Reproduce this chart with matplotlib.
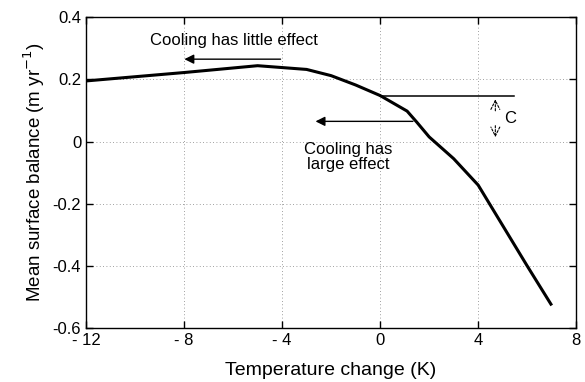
"""
Mean surface balance versus temperature change.
"""

import matplotlib
matplotlib.use("Agg")
import matplotlib.pyplot as plt

temp_change = [-12, -8, -5, -4, -3, -2, -1, 0, 1.1, 1.5, 2, 3, 4, 5, 6, 7]
surface_balance = [0.195, 0.222, 0.244, 0.238, 0.232, 0.212, 0.182, 0.148,
                   0.098, 0.062, 0.015, -0.055, -0.14, -0.27, -0.40, -0.527]

x_ticks = [-12, -8, -4, 0, 4, 8]
x_tick_labels = ["- 12", "- 8", "- 4", "0", "4", "8"]
y_ticks = [-0.6, -0.4, -0.2, 0, 0.2, 0.4]
y_tick_labels = ["-0.6", "-0.4", "-0.2", "0", "0.2", "0.4"]

plt.rcParams["font.family"] = ["Liberation Sans", "DejaVu Sans"]

fig = plt.figure(figsize=(5.85, 3.82), dpi=100)
ax = fig.add_axes([0.147, 0.141, 0.838, 0.814])

ax.plot(temp_change, surface_balance, color="black", lw=2.2,
        solid_capstyle="butt")

# horizontal reference line from T=0 and the C marker
ax.plot([0, 5.45], [0.148, 0.148], color="black", lw=1.1)
ax.annotate("", xy=(4.7, 0.145), xytext=(4.7, 0.09),
            arrowprops=dict(arrowstyle="->", lw=0.8, ls=(0, (2, 1.5)),
                            mutation_scale=16))
ax.annotate("", xy=(4.7, 0.005), xytext=(4.7, 0.06),
            arrowprops=dict(arrowstyle="->", lw=0.8, ls=(0, (2, 1.5)),
                            mutation_scale=16))
ax.text(5.05, 0.075, "C", fontsize=12, va="center", ha="left")

# annotations
ax.annotate("", xy=(-8.1, 0.265), xytext=(-3.95, 0.265),
            arrowprops=dict(arrowstyle="-|>", lw=1.0, color="black",
                            mutation_scale=14))
ax.text(-9.4, 0.325, "Cooling has little effect", fontsize=12,
        va="center", ha="left")
ax.annotate("", xy=(-2.75, 0.065), xytext=(1.45, 0.065),
            arrowprops=dict(arrowstyle="-|>", lw=1.0, color="black",
                            mutation_scale=14))
ax.text(-1.3, -0.05, "Cooling has\nlarge effect", fontsize=12,
        va="center", ha="center", linespacing=1.0)

ax.set_xlim(-12, 8)
ax.set_ylim(-0.6, 0.4)
ax.set_xticks(x_ticks)
ax.set_xticklabels(x_tick_labels, fontsize=12)
ax.set_yticks(y_ticks)
ax.set_yticklabels(y_tick_labels, fontsize=12)
ax.tick_params(direction="in", top=True, right=True, length=5, width=1)
ax.grid(True, ls=(0, (1, 3)), color="gray", lw=0.6)
for spine in ax.spines.values():
    spine.set_linewidth(1.0)

ax.set_xlabel("Temperature change (K)", fontsize=14, labelpad=10)
ax.set_ylabel("Mean surface balance (m yr$^{-1}$)", fontsize=13.5, labelpad=4)

fig.savefig("out.png", dpi=100)
